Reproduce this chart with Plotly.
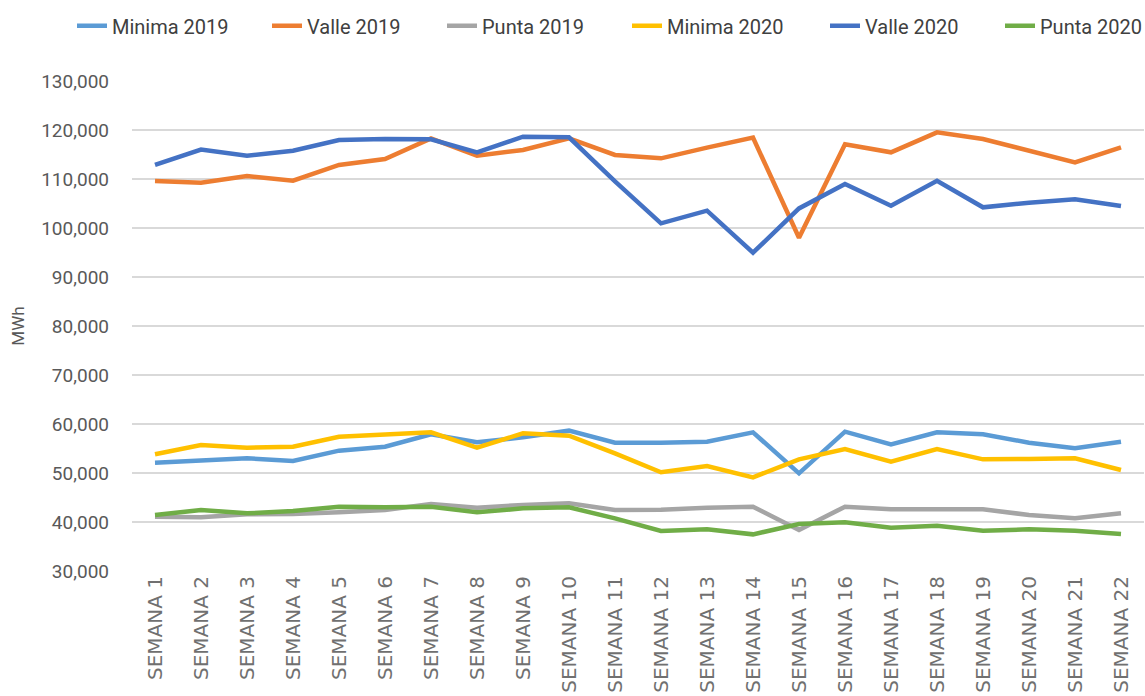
import plotly.graph_objects as go

semanas = [f"SEMANA {i}" for i in range(1, 23)]

minima_2019 = [52100, 52450, 53000, 52450, 54560, 55370, 57890, 56260, 57280, 58640, 56190,
               56190, 56390, 58300, 49930, 58440, 55850, 58300, 57890, 56190, 55030, 56390]
valle_2019 = [109590, 109250, 110610, 109650, 112860, 114080, 118300, 114760, 115920, 118300, 114900,
              114220, 116400, 118440, 98020, 117080, 115440, 119520, 118160, 115780, 113400, 116470]
punta_2019 = [41090, 40950, 41560, 41630, 41970, 42450, 43670, 42920, 43470, 43810, 42450,
              42500, 42920, 43130, 38370, 43130, 42590, 42590, 42590, 41430, 40750, 41770]
minima_2020 = [53810, 55710, 55170, 55370, 57410, 57760, 58300, 55170, 58100, 57620, 54020,
               50140, 51430, 49120, 52790, 54900, 52310, 54900, 52790, 52860, 53000, 50610]
valle_2020 = [112860, 116000, 114760, 115780, 117960, 118160, 118100, 115440, 118640, 118500, 109500,
              100960, 103530, 94960, 104000, 109000, 104550, 109650, 104220, 105160, 105850, 104490]
punta_2020 = [41430, 42450, 41770, 42240, 43130, 43000, 43130, 41970, 42790, 43000, 40750,
              38160, 38500, 37480, 39590, 39930, 38840, 39250, 38230, 38500, 38230, 37550]

series = [
    ("Minima 2019", minima_2019, "#5B9BD5"),
    ("Valle 2019", valle_2019, "#ED7D31"),
    ("Punta 2019", punta_2019, "#A5A5A5"),
    ("Minima 2020", minima_2020, "#FFC000"),
    ("Valle 2020", valle_2020, "#4472C4"),
    ("Punta 2020", punta_2020, "#70AD47"),
]
# left edge (px) of each legend label in the reference layout
legend_text_x = [114, 309, 484, 669, 867, 1042]

fig = go.Figure()
legend_layouts = {}
for i, ((name, vals, color), tx) in enumerate(zip(series, legend_text_x)):
    key = "legend" if i == 0 else f"legend{i + 1}"
    fig.add_trace(go.Scatter(x=semanas, y=vals, name=name, mode="lines", showlegend=True,
                             line=dict(color=color, width=4.5), legend=key))
    legend_layouts[key] = dict(
        orientation="h", xref="container", yref="container",
        x=(tx - 42) / 1145, xanchor="left", y=0.963, yanchor="middle",
        font=dict(size=20, color="#404040", family="Roboto"),
        bgcolor="rgba(0,0,0,0)", borderwidth=0, visible=True)

fig.update_layout(
    width=1145, height=696,
    showlegend=True,
    margin=dict(l=132, r=1, t=81, b=125),
    plot_bgcolor="white", paper_bgcolor="white",
    font=dict(family="Roboto", color="#595959"),
    xaxis=dict(type="category", range=[-0.5, 21.5], showgrid=False, showline=False,
               ticks="", tickangle=-90, automargin=False,
               tickfont=dict(family="DejaVu Sans", size=20, color="#707070")),
    yaxis=dict(range=[30000, 130000], dtick=10000, tickformat=",", showgrid=True,
               gridcolor="#D9D9D9", gridwidth=1.5, zeroline=False, showline=False,
               automargin=False, ticklabelstandoff=22,
               tickfont=dict(size=19, color="#595959"),
               title=dict(text="MWh", font=dict(size=17, color="#595959"), standoff=12)),
    **legend_layouts,
)

fig.write_html("out.html", config={"displayModeBar": False},
               post_script="document.body.style.margin='0px';")
